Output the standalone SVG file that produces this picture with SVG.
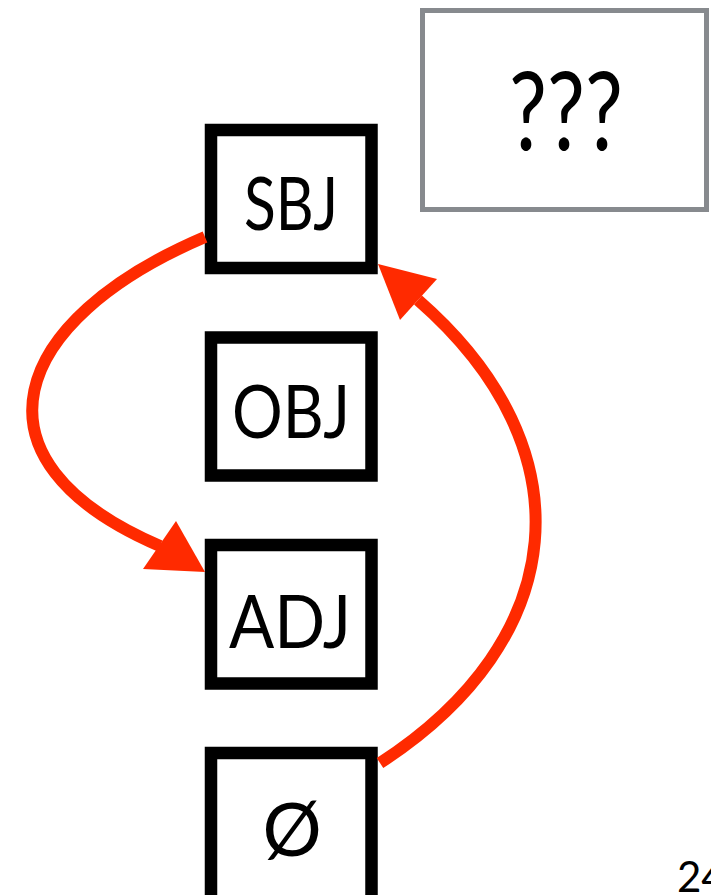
<svg xmlns="http://www.w3.org/2000/svg" width="711" height="895" viewBox="0 0 711 895">
<style>
.box{fill:#fff;stroke:#000;stroke-width:12.5}
.lbl{font-family:Lato,"Liberation Sans",sans-serif;font-size:74px;text-anchor:middle;fill:#000}
.edge{fill:none;stroke:#ff2a00;stroke-width:12}
.head{fill:#ff2a00}
</style>
<rect width="711" height="895" fill="#fff"/>
<g id="unknown">
<rect x="422.5" y="10.5" width="284" height="199" fill="#fff" stroke="#878a8e" stroke-width="5"/>
<text x="566" y="150" font-family="Lato,'Liberation Sans',sans-serif" font-size="108" text-anchor="middle" textLength="114" lengthAdjust="spacingAndGlyphs">???</text>
</g>
<g id="sbj">
<rect class="box" x="211" y="130" width="160.5" height="138"/>
<text class="lbl" x="291" y="230" textLength="94" lengthAdjust="spacingAndGlyphs">SBJ</text>
</g>
<g id="obj">
<rect class="box" x="211" y="337.5" width="160.5" height="138"/>
<text class="lbl" x="291" y="438" textLength="118" lengthAdjust="spacingAndGlyphs">OBJ</text>
</g>
<g id="adj">
<rect class="box" x="211" y="545" width="160.5" height="138.5"/>
<text class="lbl" x="290" y="648" textLength="122" lengthAdjust="spacingAndGlyphs">ADJ</text>
</g>
<g id="null">
<rect class="box" x="211" y="753" width="160.5" height="150"/>
<text class="lbl" x="292" y="856">Ø</text>
</g>
<g id="connectors">
<path class="edge" d="M205,237 C10,320 -40,460 160,546"/>
<polygon class="head" points="205,572 143,569 176,521"/>
<path class="edge" d="M380,763 C570,640 590,450 418,300"/>
<polygon class="head" points="378,264 437,279 400,320"/>
</g>
<text x="677" y="892" font-family="Lato,'Liberation Sans',sans-serif" font-size="42">24</text>
</svg>
